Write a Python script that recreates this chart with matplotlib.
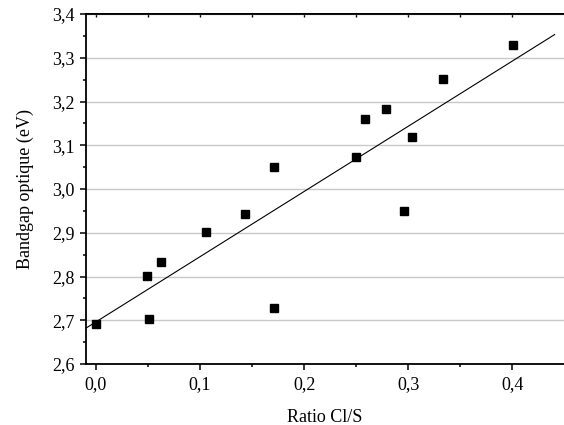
import matplotlib
matplotlib.use("Agg")
import matplotlib.pyplot as plt
from matplotlib.ticker import MultipleLocator, FuncFormatter

ratio = [0.0, 0.0486, 0.0512, 0.0627, 0.1056, 0.1433, 0.1711, 0.1710,
         0.2502, 0.2582, 0.2790, 0.3039, 0.2962, 0.3333, 0.4005]
bandgap = [2.692, 2.802, 2.704, 2.834, 2.901, 2.942, 2.728, 3.050,
           3.073, 3.160, 3.184, 3.120, 2.949, 3.251, 3.330]
fit_x = [-0.0096, 0.4405]
fit_y = [2.682, 3.353]

plt.rcParams['font.family'] = ['Liberation Serif', 'DejaVu Serif']
plt.rcParams['font.size'] = 13

fig = plt.figure(figsize=(5.64, 4.25), dpi=100)
ax = fig.add_axes([86/564, 1-364/425, 1-86/564, 350/425])

ax.plot(ratio, bandgap, 's', color='black', markersize=5.2, zorder=3)
ax.plot(fit_x, fit_y, '-', color='black', linewidth=0.8, zorder=2)

ax.set_xlim(-0.0096, 0.4495)
ax.set_ylim(2.6, 3.4)
ax.xaxis.set_major_locator(MultipleLocator(0.1))
ax.xaxis.set_minor_locator(MultipleLocator(0.05))
ax.yaxis.set_major_locator(MultipleLocator(0.1))
ax.yaxis.set_minor_locator(MultipleLocator(0.05))
fmt = FuncFormatter(lambda v, p: f"{v:.1f}".replace('.', ','))
ax.xaxis.set_major_formatter(fmt)
ax.yaxis.set_major_formatter(fmt)

ax.yaxis.grid(True, which='major', color='#c8c8c8', linewidth=1.0)
ax.set_axisbelow(True)

for s in ['left', 'bottom', 'top']:
    ax.spines[s].set_linewidth(1.3)
ax.spines['right'].set_visible(False)

ax.tick_params(axis='both', which='major', direction='out', length=4.5, width=1.1, labelsize=13)
ax.tick_params(axis='both', which='minor', direction='out', length=2.5, width=1.1)
ax.tick_params(axis='x', which='major', pad=4)
ax.xaxis.set_tick_params(which='both', top=False)

# top ticks pointing inward
sec = ax.secondary_xaxis('top')
sec.xaxis.set_major_locator(MultipleLocator(0.1))
sec.xaxis.set_minor_locator(MultipleLocator(0.05))
sec.tick_params(which='both', direction='in', length=2.5, width=1.0, labeltop=False)
sec.spines['top'].set_linewidth(1.3)

ax.set_xlabel('Ratio Cl/S', fontsize=13, labelpad=12)
ax.set_ylabel('Bandgap optique (eV)', fontsize=13, labelpad=13)

fig.savefig('out.png', dpi=100)
